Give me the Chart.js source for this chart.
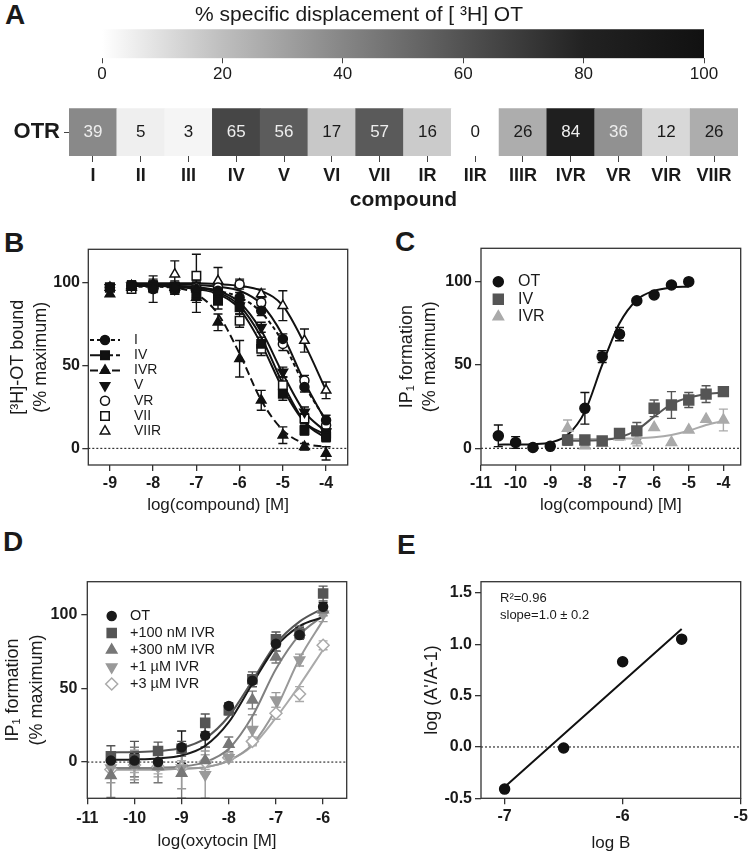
<!DOCTYPE html>
<html lang="en">
<head>
<meta charset="utf-8">
<title>OTR displacement and IP1 formation</title>
<script src="https://cdn.jsdelivr.net/npm/chart.js@4.4.1/dist/chart.umd.min.js"></script>
<style>
  html, body { margin: 0; padding: 0; background: #fff; }
  body { position: relative; width: 750px; height: 856px; overflow: hidden; font-family: "Liberation Sans", Arial, sans-serif; }
  canvas { position: absolute; }
  .tag { position: absolute; font-weight: bold; font-size: 28px; line-height: 28px; color: #1a1a1a; }
</style>
</head>
<body>
<div class="tag" style="left:5px;top:1px">A</div>
<div class="tag" style="left:4px;top:229px">B</div>
<div class="tag" style="left:395px;top:228px">C</div>
<div class="tag" style="left:3px;top:528px">D</div>
<div class="tag" style="left:397px;top:531px">E</div>

<canvas id="scaleBar" width="750" height="92" style="left:0;top:0"></canvas>
<canvas id="heatRow" width="750" height="120" style="left:0;top:95px"></canvas>
<canvas id="bindChart" width="370" height="300" style="left:0;top:220px"></canvas>
<canvas id="ipChart" width="380" height="300" style="left:370px;top:220px"></canvas>
<canvas id="shiftChart" width="370" height="326" style="left:0;top:530px"></canvas>
<canvas id="schildChart" width="380" height="326" style="left:370px;top:530px"></canvas>

<script>
// ---- Panel A: % specific displacement of [3H]OT ----
const compounds = ['I', 'II', 'III', 'IV', 'V', 'VI', 'VII', 'IR', 'IIR', 'IIIR', 'IVR', 'VR', 'VIR', 'VIIR'];
const displacement = [39, 5, 3, 65, 56, 17, 57, 16, 0, 26, 84, 36, 12, 26];
const receptorRow = ['OTR'];
const scaleTicks = [0, 20, 40, 60, 80, 100];

// ---- Panel B: [3H]-OT bound (% maximum) ----
const bX = [-9, -8.5, -8, -7.5, -7, -6.5, -6, -5.5, -5, -4.5, -4];
const boundI    = [97, 98, 96, 97, 96, 95, 91, 83, 66, 37, 17];
const errI      = [0, 3, 8, 3, 4, 3, 3, 3, 3, 3, 3];
const boundIV   = [97, 98, 98, 97, 93, 89, 85, 63, 33, 11, 7];
const errIV     = [2, 3, 3, 4, 5, 5, 4, 4, 4, 3, 3];
const boundIVR  = [93, 97, 98, 97, 91, 76, 54, 29, 8, 1, -3];
const errIVR    = [0, 2, 3, 3, 9, 5, 11, 6, 5, 2, 4];
const boundV    = [97, 98, 97, 96, 94, 92, 86, 73, 46, 22, 10];
const errV      = [0, 2, 2, 3, 3, 3, 3, 3, 3, 3, 3];
const boundVR   = [97, 98, 98, 96, 97, 97, 99, 88, 63, 41, 14];
const errVR     = [0, 2, 2, 3, 3, 2, 2, 3, 4, 3, 3];
const boundVII  = [97, 96, 97, 97, 104, 93, 77, 60, 38, 18, 9];
const errVII    = [0, 2, 3, 3, 13, 4, 4, 4, 5, 3, 3];
const boundVIIR = [97, 98, 99, 105, 97, 101, 99, 93, 86, 65, 35];
const errVIIR   = [0, 2, 3, 8, 4, 8, 3, 3, 9, 7, 5];
// fitted curves
const bFitX   = [-8.5, -8, -7.5, -7, -6.5, -6, -5.5, -5, -4.5, -4];
const fitI    = [97.5, 97.5, 97, 96.5, 95, 91, 82, 64, 38, 17];
const fitIV   = [98, 98, 98, 97, 94, 86, 67, 39, 16, 6];
const fitIVR  = [98, 98, 97, 93, 81, 57, 29, 11, 3, 1];
const fitV    = [98, 98, 97.5, 97, 95, 88, 71, 45, 22, 10];
const fitVR   = [99, 99, 99, 98.5, 97.5, 95, 87, 68, 40, 16];
const fitVII  = [98, 98, 97.5, 96, 93, 84, 63, 36, 16, 8];
const fitVIIR = [99.5, 99.5, 99.5, 99.5, 99, 98, 95, 86, 63, 35];
const xTicksB = [-9, -8, -7, -6, -5, -4];
const yTicksPct = [0, 50, 100];

// ---- Panel C: IP1 formation ----
const cX = [-10.5, -10, -9.5, -9, -8, -7.5, -7, -6.5, -6, -5.5, -5];
const ipOT = [7.5, 3.5, 0.5, 1.2, 24, 55, 68.5, 88.5, 92, 98, 100];
const errOTc = [6.5, 3.5, 0, 0, 9.5, 3.5, 4, 0, 0, 0, 0];
const cFitX = [-10.5, -10, -9.5, -9, -8.5, -8, -7.5, -7, -6.5, -6, -5.5, -5];
const fitOTc = [2.2, 2.3, 2.5, 3.5, 8, 22, 50, 75, 89, 94.5, 96.5, 97];
const cX2 = [-8.5, -8, -7.5, -7, -6.5, -6, -5.5, -5, -4.5, -4];
const ipIV = [5, 5, 4.5, 9, 10.5, 24, 26, 29, 32.5, 34];
const errIVc = [3, 2, 2, 2, 5, 5, 8, 4.5, 5, 0];
const fitIVc = [4.5, 4.6, 5, 6.5, 11, 19, 26.5, 30.5, 32.5, 33.5];
const ipIVR = [12, 1.5, 3, 7, 4.5, 12.5, 3.5, 11, 17.5, 17];
const errIVRc = [5, 0, 0, 2, 3, 0, 0, 0, 0, 6.5];
const fitIVRc = [5.5, 5.6, 5.7, 5.8, 6, 6.6, 8, 10.5, 14, 16.5];
const xTicksC = [-11, -10, -9, -8, -7, -6, -5, -4];

// ---- Panel D: OT response with IVR ----
const dX = [-10.5, -10, -9.5, -9, -8.5, -8, -7.5, -7, -6.5, -6];
const ipOTd = [1, 1, 0, 10, 18, 38, 55, 80, 86, 105];
const errOTd = [5, 5, 5, 11, 8, 2, 4, 5, 3, 3];
const ip100 = [4, 2, 7.5, 9, 26.5, 35, 56, 83, 87, 114];
const err100 = [7, 12, 6, 5, 6, 3, 5, 5, 4, 5];
const ip300 = [-9, -2, -3, -7.5, 1, 12, 42, 71, 88, 103];
const err300 = [15, 12, 11, 17, 9, 5, 6, 4, 4, 4];
const ip1u = [-4, -2, -2, -4, -8.5, 3, 22, 42, 69, 100];
const err1u = [10, 10, 8, 14, 16, 3, 10, 5, 4, 5];
const ip3u = [-5, -2, -3, -4, 0, 3, 14, 33, 46, 79];
const err3u = [5, 5, 5, 5, 5, 3, 3, 4, 5, 3];
const fitOTd = [1.5, 1.8, 2.5, 4.5, 11, 27, 53, 78, 92, 98];
const fit100 = [6.5, 6.8, 7.5, 9.5, 16, 31, 55, 80, 95, 104];
const fit300 = [-4, -4, -3.8, -3, 0, 9, 31, 63, 86, 99];
const fit1u = [-5, -5, -5, -4.5, -3.5, 1, 12, 36, 70, 96];
const fit3u = [-5, -5, -5, -4.5, -3.5, 1, 11, 30, 52, 76];
const xTicksD = [-11, -10, -9, -8, -7, -6];

// ---- Panel E: Schild plot ----
const eX = [-7, -6.5, -6, -5.5];
const eY = [-0.41, -0.01, 0.83, 1.05];
const eFitX = [-7, -5.5];
const eFitY = [-0.39, 1.15];
const xTicksE = [-7, -6, -5];
const yTicksE = [-0.5, 0, 0.5, 1, 1.5];
const fitR2 = '0.96';
const fitSlope = '1.0 ± 0.2';

// ---------------------------------------------------------------
const FONT = '"Liberation Sans", Arial, Helvetica, sans-serif';
const INK = '#1a1a1a';
Chart.defaults.font.family = FONT;
Chart.defaults.color = INK;
Chart.defaults.animation = false;
Chart.defaults.responsive = false;
Chart.defaults.plugins.legend.display = false;
Chart.defaults.plugins.tooltip.enabled = false;

// grey ramp used by the heat strip and its colour bar
const grayStops = [[0, 255], [20, 190], [40, 134], [60, 82], [80, 34], [100, 17]];
function grayLevel(v) {
    for (let i = 1; i < grayStops.length; i++) {
        const [v0, g0] = grayStops[i - 1];
        const [v1, g1] = grayStops[i];
        if (v <= v1) return Math.round(g0 + (g1 - g0) * (v - v0) / (v1 - v0));
    }
    return grayStops[grayStops.length - 1][1];
}
function grayCss(v) {
    const g = grayLevel(v);
    return 'rgb(' + g + ',' + g + ',' + g + ')';
}

// free text drawn on a chart
function makeNotes(items) {
    return {
        id: 'notes',
        afterDraw(chart) {
            const ctx = chart.ctx;
            ctx.save();
            items.forEach(n => {
                ctx.font = n.font;
                ctx.fillStyle = INK;
                ctx.textAlign = n.align || 'left';
                ctx.textBaseline = 'middle';
                ctx.fillText(n.text, n.x, n.y);
            });
            ctx.restore();
        }
    };
}

// box frame plus dotted zero line
const framePlugin = {
    id: 'frame',
    beforeDatasetsDraw(chart) {
        const { ctx, chartArea: a, scales: { y } } = chart;
        const py = y.getPixelForValue(0);
        ctx.save();
        ctx.strokeStyle = '#333';
        ctx.lineWidth = 1.2;
        ctx.setLineDash([2, 2]);
        ctx.beginPath();
        ctx.moveTo(a.left, py);
        ctx.lineTo(a.right, py);
        ctx.stroke();
        ctx.restore();
    },
    afterDraw(chart) {
        const { ctx, chartArea: a } = chart;
        ctx.save();
        ctx.strokeStyle = '#333';
        ctx.lineWidth = 1.3;
        ctx.strokeRect(a.left, a.top, a.right - a.left, a.bottom - a.top);
        ctx.restore();
    }
};

// vertical SEM bars, drawn under the markers
const errorBarPlugin = {
    id: 'errorBars',
    beforeDatasetsDraw(chart) {
        const { ctx, scales: { y } } = chart;
        chart.data.datasets.forEach((ds, i) => {
            if (!ds.errors) return;
            const meta = chart.getDatasetMeta(i);
            ctx.save();
            ctx.strokeStyle = ds.borderColor;
            ctx.lineWidth = 1.4;
            meta.data.forEach((pt, j) => {
                const e = ds.errors[j];
                if (!e) return;
                const v = ds.data[j].y;
                const top = y.getPixelForValue(v + e);
                const bot = y.getPixelForValue(v - e);
                ctx.beginPath();
                ctx.moveTo(pt.x, top); ctx.lineTo(pt.x, bot);
                ctx.moveTo(pt.x - 4.5, top); ctx.lineTo(pt.x + 4.5, top);
                ctx.moveTo(pt.x - 4.5, bot); ctx.lineTo(pt.x + 4.5, bot);
                ctx.stroke();
            });
            ctx.restore();
        });
    }
};

function drawMarker(ctx, ds, x, y) {
    if (Chart.helpers && Chart.helpers.drawPoint) {
        Chart.helpers.drawPoint(ctx, {
            pointStyle: ds.pointStyle, rotation: ds.pointRotation || 0,
            radius: ds.pointRadius, borderWidth: 1.5
        }, x, y);
    } else {
        ctx.beginPath();
        ctx.arc(x, y, ds.pointRadius, 0, Math.PI * 2);
        ctx.fill();
        ctx.stroke();
    }
}

// in-plot key built from the point datasets
function makeKey(k) {
    return {
        id: 'key',
        afterDraw(chart) {
            const ctx = chart.ctx;
            let row = 0;
            ctx.save();
            chart.data.datasets.forEach(ds => {
                if (ds.isCurve) return;
                const y = k.y + row * k.step;
                row++;
                if (ds.keyDash) {
                    ctx.strokeStyle = ds.borderColor;
                    ctx.lineWidth = 2;
                    ctx.setLineDash(ds.keyDash);
                    ctx.beginPath();
                    ctx.moveTo(k.x - 15, y);
                    ctx.lineTo(k.x + 15, y);
                    ctx.stroke();
                    ctx.setLineDash([]);
                }
                ctx.fillStyle = ds.backgroundColor;
                ctx.strokeStyle = ds.borderColor;
                ctx.lineWidth = 1.5;
                drawMarker(ctx, ds, k.x, y);
                ctx.fillStyle = INK;
                ctx.font = k.font;
                ctx.textAlign = 'left';
                ctx.textBaseline = 'middle';
                ctx.fillText(ds.label, k.textX, y);
            });
            ctx.restore();
        }
    };
}

function pointSet(label, xs, ys, errs, look) {
    return {
        label: label,
        data: xs.map((x, i) => ({ x: x, y: ys[i] })),
        errors: errs,
        showLine: false,
        pointStyle: look.style,
        pointRotation: look.rotation || 0,
        pointRadius: look.radius,
        backgroundColor: look.fill,
        borderColor: look.color,
        borderWidth: 1.5,
        pointBorderWidth: 1.5,
        keyDash: look.keyDash,
        order: 1
    };
}

function curveSet(xs, ys, look) {
    return {
        data: xs.map((x, i) => ({ x: x, y: ys[i] })),
        showLine: true,
        pointRadius: 0,
        borderColor: look.color,
        borderWidth: 2,
        borderDash: look.dash || [],
        cubicInterpolationMode: 'monotone',
        fill: false,
        isCurve: true,
        order: 2
    };
}

function axis(min, max, ticks, o) {
    return {
        type: 'linear',
        min: min,
        max: max,
        afterBuildTicks: s => { s.ticks = ticks.map(v => ({ value: v })); },
        afterFit: s => {
            if (s.isHorizontal()) { s.height = o.size; s.paddingLeft = 0; s.paddingRight = 0; }
            else { s.width = o.size; s.paddingTop = 0; s.paddingBottom = 0; }
        },
        grid: { drawOnChartArea: false, tickLength: 6, color: '#333', lineWidth: 1.3 },
        border: { display: false },
        ticks: {
            font: { size: 16, weight: 'bold' }, color: INK, padding: o.pad,
            autoSkip: false, maxRotation: 0,
            callback: o.fmt || (v => String(v))
        },
        title: {
            display: true, text: o.title, color: INK,
            font: { size: o.titleSize || 17, lineHeight: 1.3 },
            padding: o.titlePad
        }
    };
}

function plot(id, datasets, xAxis, yAxis, pad, extra) {
    return new Chart(document.getElementById(id), {
        type: 'scatter',
        data: { datasets: datasets },
        options: { layout: { padding: pad }, scales: { x: xAxis, y: yAxis } },
        plugins: [framePlugin, errorBarPlugin].concat(extra || [])
    });
}

// ---- A: colour bar ----
new Chart(document.getElementById('scaleBar'), {
    type: 'bar',
    data: {
        labels: [''],
        datasets: [{
            data: [[scaleTicks[0], scaleTicks[scaleTicks.length - 1]]],
            backgroundColor: c => {
                const x = c.chart.scales.x;
                if (!x || !c.chart.chartArea) return grayCss(50);
                const g = c.chart.ctx.createLinearGradient(x.getPixelForValue(0), 0, x.getPixelForValue(100), 0);
                grayStops.forEach(([v]) => g.addColorStop(v / 100, grayCss(v)));
                return g;
            },
            borderWidth: 0,
            barPercentage: 1,
            categoryPercentage: 1
        }]
    },
    options: {
        indexAxis: 'y',
        layout: { padding: { left: 102, right: 46, top: 29.3, bottom: 0 } },
        scales: {
            x: {
                min: 0, max: 100,
                afterBuildTicks: s => { s.ticks = scaleTicks.map(v => ({ value: v })); },
                afterFit: s => { s.height = 33.7; s.paddingLeft = 0; s.paddingRight = 0; },
                grid: { drawOnChartArea: false, tickLength: 5, color: '#444' },
                border: { display: false },
                ticks: { font: { size: 17 }, color: INK, padding: 1 }
            },
            y: { display: false }
        }
    },
    plugins: [makeNotes([
        { text: '% specific displacement of [ \u00B3H] OT', x: 359, y: 15, font: '21px ' + FONT, align: 'center' }
    ])]
});

// ---- A: heat strip ----
const cellTextPlugin = {
    id: 'cellText',
    afterDatasetsDraw(chart) {
        const ctx = chart.ctx;
        const meta = chart.getDatasetMeta(0);
        ctx.save();
        ctx.font = '17px ' + FONT;
        ctx.textAlign = 'center';
        ctx.textBaseline = 'middle';
        meta.data.forEach((bar, i) => {
            const v = displacement[i];
            ctx.fillStyle = v >= 30 ? '#eeeeee' : INK;
            ctx.fillText(String(v), bar.x, (bar.y + bar.base) / 2);
        });
        ctx.restore();
    }
};

new Chart(document.getElementById('heatRow'), {
    type: 'bar',
    data: {
        labels: compounds,
        datasets: [{
            data: displacement.map(() => [0, 1]),
            backgroundColor: displacement.map(grayCss),
            borderWidth: 0,
            barPercentage: 1,
            categoryPercentage: 1
        }]
    },
    options: {
        layout: { padding: { top: 13.3, right: 12, left: 0, bottom: 0 } },
        scales: {
            x: {
                grid: { offset: false, drawOnChartArea: false, tickLength: 6, color: '#444' },
                border: { display: false },
                ticks: { font: { size: 18, weight: 'bold' }, color: INK, padding: 3, autoSkip: false, maxRotation: 0 },
                title: { display: true, text: 'compound', color: INK, font: { size: 21, weight: 'bold' }, padding: { top: 0, bottom: 2 } },
                afterFit: s => { s.height = 59; s.paddingLeft = 0; s.paddingRight = 0; }
            },
            y: {
                min: 0, max: 1,
                afterBuildTicks: s => { s.ticks = [{ value: 0.5 }]; },
                ticks: { callback: () => receptorRow[0], font: { size: 22, weight: 'bold' }, color: INK, padding: 4 },
                grid: { drawOnChartArea: false, tickLength: 5, color: '#444' },
                border: { display: false },
                afterFit: s => { s.width = 69; s.paddingTop = 0; s.paddingBottom = 0; }
            }
        }
    },
    plugins: [cellTextPlugin]
});

// ---- B ----
const black = '#111111';
plot('bindChart', [
    pointSet('I', bX, boundI, errI, { style: 'circle', radius: 4.5, fill: black, color: black, keyDash: [4, 3] }),
    pointSet('IV', bX, boundIV, errIV, { style: 'rect', radius: 6, fill: black, color: black, keyDash: [10, 3] }),
    pointSet('IVR', bX, boundIVR, errIVR, { style: 'triangle', radius: 5.5, fill: black, color: black, keyDash: [8, 3] }),
    pointSet('V', bX, boundV, errV, { style: 'triangle', rotation: 180, radius: 5.5, fill: black, color: black }),
    pointSet('VR', bX, boundVR, errVR, { style: 'circle', radius: 4.5, fill: '#fff', color: black }),
    pointSet('VII', bX, boundVII, errVII, { style: 'rect', radius: 6, fill: '#fff', color: black }),
    pointSet('VIIR', bX, boundVIIR, errVIIR, { style: 'triangle', radius: 5.5, fill: '#fff', color: black }),
    curveSet(bFitX, fitI, { color: black, dash: [4, 3] }),
    curveSet(bFitX, fitIV, { color: black }),
    curveSet(bFitX, fitIVR, { color: black, dash: [8, 4] }),
    curveSet(bFitX, fitV, { color: black }),
    curveSet(bFitX, fitVR, { color: black }),
    curveSet(bFitX, fitVII, { color: black }),
    curveSet(bFitX, fitVIIR, { color: black })
],
    axis(-9.5, -3.5, xTicksB, { size: 55, pad: 2.7, title: 'log(compound) [M]', titlePad: { top: 0, bottom: 4 } }),
    axis(-10, 120, yTicksPct, { size: 88.3, pad: 2.3, title: ['[\u00B3H]-OT bound', '(% maximum)'], titleSize: 18, titlePad: { top: 6.3, bottom: 0 } }),
    { top: 29.3, right: 22.3, left: 0, bottom: 0 },
    [makeKey({ x: 105, y: 120, step: 15.2, textX: 134, font: '14px ' + FONT })]
);

// ---- C ----
plot('ipChart', [
    pointSet('OT', cX, ipOT, errOTc, { style: 'circle', radius: 5, fill: black, color: black }),
    pointSet('IV', cX2, ipIV, errIVc, { style: 'rect', radius: 7, fill: '#555', color: '#555' }),
    pointSet('IVR', cX2, ipIVR, errIVRc, { style: 'triangle', radius: 6, fill: '#aaa', color: '#aaa' }),
    curveSet(cFitX, fitOTc, { color: black }),
    curveSet(cX2, fitIVc, { color: '#555' }),
    curveSet(cX2, fitIVRc, { color: '#aaa' })
],
    axis(-11, -3.5, xTicksC, { size: 55, pad: 2.7, title: 'log(compound) [M]', titlePad: { top: 0, bottom: 4 } }),
    axis(-10, 120, yTicksPct, { size: 111, pad: 3, title: ['IP\u2081 formation', '(% maximum)'], titleSize: 18, titlePad: { top: 25.3, bottom: 0 } }),
    { top: 28.3, right: 9.3, left: 0, bottom: 0 },
    [makeKey({ x: 128.3, y: 61.7, step: 17.5, textX: 148, font: '16px ' + FONT })]
);

// ---- D ----
plot('shiftChart', [
    pointSet('OT', dX, ipOTd, errOTd, { style: 'circle', radius: 4.5, fill: '#1a1a1a', color: '#1a1a1a' }),
    pointSet('+100 nM IVR', dX, ip100, err100, { style: 'rect', radius: 6.4, fill: '#555', color: '#555' }),
    pointSet('+300 nM IVR', dX, ip300, err300, { style: 'triangle', radius: 6, fill: '#777', color: '#777' }),
    pointSet('+1 \u00B5M IVR', dX, ip1u, err1u, { style: 'triangle', rotation: 180, radius: 6, fill: '#999', color: '#999' }),
    pointSet('+3 \u00B5M IVR', dX, ip3u, err3u, { style: 'rectRot', radius: 6, fill: '#fff', color: '#aaa' }),
    curveSet(dX, fitOTd, { color: '#1a1a1a' }),
    curveSet(dX, fit100, { color: '#555' }),
    curveSet(dX, fit300, { color: '#808080' }),
    curveSet(dX, fit1u, { color: '#999' }),
    curveSet(dX, fit3u, { color: '#aaa' })
],
    axis(-11, -5.5, xTicksD, { size: 57.7, pad: 4.4, title: 'log(oxytocin [M]', titlePad: { top: 0, bottom: 3.3 } }),
    axis(-24.5, 122, yTicksPct, { size: 87.3, pad: 4, title: ['IP\u2081 formation', '(% maximum)'], titleSize: 18, titlePad: { top: 1.8, bottom: 0 } }),
    { top: 51.7, right: 23.3, left: 0, bottom: 0 },
    [makeKey({ x: 111.7, y: 86, step: 17, textX: 130, font: '14.5px ' + FONT })]
);

// ---- E ----
plot('schildChart', [
    pointSet('', eX, eY, null, { style: 'circle', radius: 5, fill: black, color: black }),
    curveSet(eFitX, eFitY, { color: black })
],
    axis(-7.2, -5, xTicksE, { size: 57.7, pad: 2.8, title: 'log B', titlePad: { top: 0, bottom: 1.7 } }),
    axis(-0.5, 1.61, yTicksE, { size: 111, pad: 3, fmt: v => v.toFixed(1), title: "log (A'/A-1)", titleSize: 18, titlePad: { top: 50.3, bottom: 0 } }),
    { top: 51.7, right: 9.3, left: 0, bottom: 0 },
    [makeNotes([
        { text: 'R\u00B2=' + fitR2, x: 130, y: 68.3, font: '13px ' + FONT },
        { text: 'slope=' + fitSlope, x: 130, y: 85, font: '13px ' + FONT }
    ])]
);
</script>
</body>
</html>
